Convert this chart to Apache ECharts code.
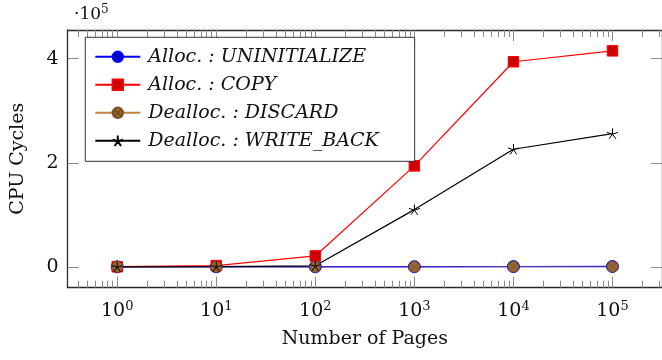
<!DOCTYPE html>
<html>
<head>
<meta charset="utf-8">
<script src="https://cdn.jsdelivr.net/npm/echarts@6/dist/echarts.min.js"></script>
<style>
  html, body { margin: 0; padding: 0; background: #fff; }
  #chart { width: 662px; height: 360px; }
</style>
</head>
<body>
<div id="chart"></div>
<script>
// ---- data ----
const pages = [1, 10, 100, 1000, 10000, 100000];
const seriesNames = [
  'Alloc. : UNINITIALIZE',
  'Alloc. : COPY',
  'Dealloc. : DISCARD',
  'Dealloc. : WRITE_BACK'
];
const allocUninitialize = [100, 100, 150, 300, 500, 700];
const allocCopy = [300, 2500, 21000, 194000, 394000, 415000];
const deallocDiscard = [50, 60, 80, 200, 400, 600];
const deallocWriteBack = [150, 400, 2000, 110000, 226000, 256000];
const yTickValues = [0, 200000, 400000];
const xMajorTicks = [1, 10, 100, 1000, 10000, 100000];

// minor log ticks (2..9 × 10^k) within the visible range
const xMin = Math.pow(10, -0.5), xMax = Math.pow(10, 5.5);
const xMinorTicks = [];
for (let k = -1; k <= 5; k++) {
  for (let m = 2; m <= 9; m++) {
    const v = m * Math.pow(10, k);
    if (v > xMin && v < xMax) xMinorTicks.push(v);
  }
}

const serif = 'DejaVu Serif';
const tickColor = '#8a8a8a';
const frameColor = '#2a2a2a';

function pairs(ys) { return pages.map((p, i) => [p, ys[i]]); }

const starPath = 'path://M0,-1 L0,0 M0.951,-0.309 L0,0 M0.588,0.809 L0,0 M-0.588,0.809 L0,0 M-0.951,-0.309 L0,0';
const otimesPath = 'path://M0,-1 A1,1 0 1,1 0,1 A1,1 0 1,1 0,-1 Z M-0.707,-0.707 L0.707,0.707 M0.707,-0.707 L-0.707,0.707';

const chart = echarts.init(document.getElementById('chart'), null, { renderer: 'canvas' });

const baseX = {
  type: 'log', logBase: 10, min: xMin, max: xMax,
  splitLine: { show: false }, minorTick: { show: false }
};

const option = {
  animation: false,
  backgroundColor: '#ffffff',
  grid: { left: 67.7, top: 30, right: -5.7, bottom: 72.3 },
  legend: {
    orient: 'vertical',
    left: 85.3, top: 37.3,
    padding: [10, 36, 11, 9],
    itemGap: 9,
    itemWidth: 45,
    itemHeight: 13,
    backgroundColor: '#ffffff',
    borderColor: '#333333',
    borderWidth: 1,
    data: [
      { name: seriesNames[0] },
      { name: seriesNames[1] },
      { name: seriesNames[2], lineStyle: { color: '#bf8040', opacity: 1 } },
      { name: seriesNames[3] }
    ],
    textStyle: {
      fontFamily: serif, fontStyle: 'italic', fontSize: 19,
      color: '#111', lineHeight: 18, padding: [0, 0, 0, 3]
    }
  },
  xAxis: [
    Object.assign({}, baseX, {
      position: 'bottom',
      name: 'Number of Pages', nameLocation: 'middle', nameGap: 42,
      nameTextStyle: { fontFamily: serif, fontSize: 19, color: '#111' },
      axisLine: { show: true, onZero: false, lineStyle: { color: frameColor, width: 1.3 } },
      axisTick: { show: true, inside: true, length: 11, customValues: xMajorTicks,
                  lineStyle: { color: tickColor, width: 1 } },
      axisLabel: {
        show: true, margin: 12, customValues: xMajorTicks,
        formatter: v => '{b|10}{s|' + Math.round(Math.log10(v)) + '}',
        rich: {
          b: { fontFamily: serif, fontSize: 19, color: '#111' },
          s: { fontFamily: serif, fontSize: 13, color: '#111', padding: [0, 0, 10, 0] }
        }
      }
    }),
    Object.assign({}, baseX, {
      position: 'bottom',
      axisLine: { show: false, onZero: false },
      axisTick: { show: true, inside: true, length: 7, customValues: xMinorTicks,
                  lineStyle: { color: tickColor, width: 1 } },
      axisLabel: { show: false }
    }),
    Object.assign({}, baseX, {
      position: 'top',
      axisLine: { show: true, onZero: false, lineStyle: { color: frameColor, width: 1.3 } },
      axisTick: { show: true, inside: true, length: 11, customValues: xMajorTicks,
                  lineStyle: { color: tickColor, width: 1 } },
      axisLabel: { show: false }
    }),
    Object.assign({}, baseX, {
      position: 'top',
      axisLine: { show: false, onZero: false },
      axisTick: { show: true, inside: true, length: 7, customValues: xMinorTicks,
                  lineStyle: { color: tickColor, width: 1 } },
      axisLabel: { show: false }
    })
  ],
  yAxis: [
    {
      type: 'value', position: 'left', min: -40000, max: 455000,
      name: 'CPU Cycles', nameLocation: 'middle', nameGap: 40, nameRotate: 90,
      nameTextStyle: { fontFamily: serif, fontSize: 19, color: '#111' },
      splitLine: { show: false },
      axisLine: { show: true, onZero: false, lineStyle: { color: frameColor, width: 1.3 } },
      axisTick: { show: true, inside: true, length: 11, customValues: yTickValues,
                  lineStyle: { color: tickColor, width: 1 } },
      axisLabel: {
        show: true, margin: 9, customValues: yTickValues,
        formatter: v => String(Math.round(v / 100000)),
        fontFamily: serif, fontSize: 19, color: '#111'
      }
    },
    {
      type: 'value', position: 'right', min: -40000, max: 455000,
      splitLine: { show: false },
      axisLine: { show: true, onZero: false, lineStyle: { color: frameColor, width: 1.3 } },
      axisTick: { show: true, inside: true, length: 11, customValues: yTickValues,
                  lineStyle: { color: tickColor, width: 1 } },
      axisLabel: { show: false }
    }
  ],
  graphic: [
    {
      type: 'text', left: 74, top: 4,
      style: {
        text: '{b|·10}{s|5}',
        rich: {
          b: { fontFamily: serif, fontSize: 17, fill: '#111' },
          s: { fontFamily: serif, fontSize: 12, fill: '#111', padding: [0, 0, 9, 0] }
        }
      }
    }
  ],
  series: [
    {
      name: seriesNames[0], type: 'line', data: pairs(allocUninitialize),
      symbol: 'circle', symbolSize: 12,
      lineStyle: { color: '#0000ff', width: 1.4 },
      itemStyle: { color: '#0000cc', borderColor: '#0000ff', borderWidth: 1 }
    },
    {
      name: seriesNames[1], type: 'line', data: pairs(allocCopy),
      symbol: 'rect', symbolSize: 10.5,
      lineStyle: { color: '#ff0000', width: 1.2 },
      itemStyle: { color: '#cc0000', borderColor: '#ff0000', borderWidth: 1 }
    },
    {
      name: seriesNames[2], type: 'line', data: pairs(deallocDiscard),
      symbol: otimesPath, symbolSize: 11, symbolKeepAspect: true,
      lineStyle: { color: '#bf8040', width: 1.2, opacity: 0.4 },
      itemStyle: { color: '#996633', borderColor: '#7a5020', borderWidth: 0.8 }
    },
    {
      name: seriesNames[3], type: 'line', data: pairs(deallocWriteBack),
      symbol: starPath, symbolSize: 11, symbolKeepAspect: true,
      lineStyle: { color: '#000000', width: 1.2 },
      itemStyle: { color: '#000000', borderColor: '#000000', borderWidth: 1 }
    }
  ]
};

chart.setOption(option);
</script>
</body>
</html>
